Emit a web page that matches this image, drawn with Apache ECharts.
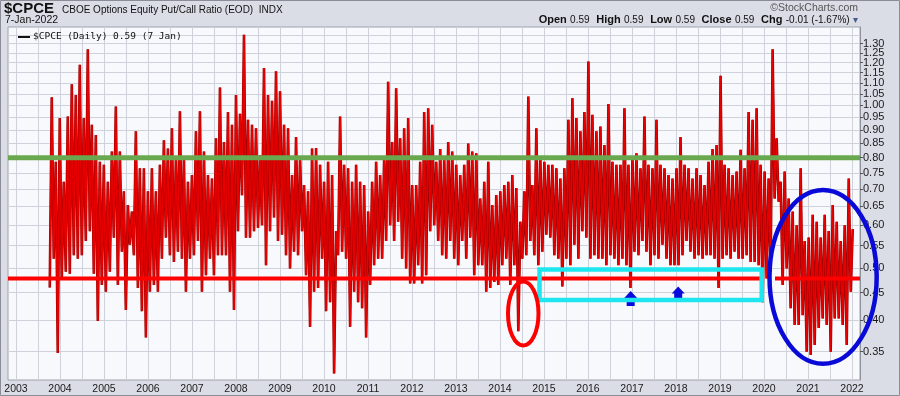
<!DOCTYPE html>
<html><head><meta charset="utf-8">
<script src="https://cdn.jsdelivr.net/npm/echarts@6/dist/echarts.min.js"></script>
<style>html,body{margin:0;padding:0;background:#dadde6;}#c{width:900px;height:396px;}</style>
</head><body><div id="c"></div>
<script>
const firstDate = [2003, 9, 8];   // 8 Oct 2003
const lastDate = [2022, 0, 7];    // 7 Jan 2022
const putCall2003_2005 = [0.46,1.035,0.52,0.786,0.348,0.947,0.478,0.722,0.492,0.953,0.488,1.094,0.528,1.045,0.52,1.188,0.528,0.947,0.561,1.27,0.585,0.92,0.488,0.881,0.399,0.786,0.465,0.776,0.452,0.722,0.492,0.821,0.569,0.995,0.465,0.821,0.536,0.693,0.418,0.654,0.552,0.636];
const putCall2005_2007 = [0.528,0.895,0.459,0.765,0.416,0.765,0.372,0.693,0.452,0.765,0.465,0.693,0.452,0.776,0.52,0.862,0.569,0.832,0.528,0.907,0.513,0.80,0.536,0.975,0.52,0.80,0.452,0.722,0.52,0.743,0.528,0.895,0.561,0.975,0.452,0.821,0.485,0.743,0.52,0.732,0.485,0.869,0.528,1.079,0.528];
const putCall2007_2009 = [0.855,0.528,0.972,0.452,0.92,0.418,1.045,0.585,0.965,0.682,1.351,0.569,0.94,0.569,0.92,0.585,0.907,0.593,0.809,0.60,1.172,0.506,1.045,0.585,1.02,0.62,1.156,0.561,1.062,0.576,0.92,0.528,0.907,0.499,0.743,0.536,0.874,0.528,0.80,0.585,0.712,0.485,0.693,0.389,0.832];
const putCall2009_2011 = [0.452,0.834,0.459,0.776,0.52,0.722,0.416,0.786,0.432,0.743,0.319,0.585,0.528,0.953,0.536,0.776,0.52,0.765,0.389,0.722,0.452,0.776,0.432,0.722,0.421,0.712,0.372,0.636,0.465,0.722,0.506,0.786,0.52,0.743,0.52,0.80,0.561,1.106,0.60,0.855,0.561,1.075,0.609,0.869,0.52];
const putCall2011_2013 = [0.907,0.499,0.947,0.468,0.712,0.468,0.712,0.506,0.786,0.468,0.972,0.485,0.987,0.585,0.92,0.60,0.786,0.561,0.830,0.528,0.80,0.52,0.855,0.561,0.821,0.52,0.776,0.506,0.743,0.561,0.776,0.52,0.85,0.569,0.821,0.485,0.815,0.506,0.672,0.506,0.722,0.452,0.786,0.459,0.654];
const putCall2013_2015 = [0.471,0.682,0.465,0.693,0.506,0.712,0.52,0.722,0.465,0.743,0.506,0.703,0.382,0.609,0.52,0.693,0.528,1.038,0.561,0.712,0.528,0.907,0.506,0.80,0.536,0.786,0.576,0.776,0.569,0.776,0.528,0.765,0.52,0.732,0.462,0.765,0.52,0.94,0.506,1.031,0.552,0.947,0.52,0.895,0.585];
const putCall2015_2017 = [0.972,0.569,1.205,0.52,0.96,0.528,0.895,0.52,0.914,0.52,0.844,0.506,1.006,0.528,0.786,0.52,0.776,0.506,0.776,0.52,0.987,0.506,0.776,0.459,0.80,0.536,0.815,0.528,0.765,0.561,0.953,0.536,0.776,0.506,0.765,0.528,0.94,0.52,0.776,0.552,0.765,0.52,0.743,0.506,0.732];
const putCall2017_2019 = [0.506,0.765,0.506,0.874,0.528,0.776,0.561,0.765,0.536,0.732,0.52,0.765,0.528,0.743,0.52,0.712,0.528,0.786,0.528,0.83,0.52,0.844,0.459,1.134,0.52,0.776,0.528,0.765,0.52,0.743,0.536,0.754,0.52,0.827,0.52,0.765,0.528,0.972,0.513,0.94,0.513,0.987,0.506,0.776,0.432];
const putCall2019_2022 = [0.754,0.478,0.732,0.492,1.27,0.672,0.869,0.663,0.722,0.465,0.754,0.499,0.672,0.421,0.636,0.392,0.60,0.392,0.765,0.409,0.561,0.35,0.569,0.345,0.627,0.36,0.609,0.387,0.569,0.403,0.627,0.392,0.585,0.35,0.654,0.403,0.609,0.403,0.561,0.392,0.60,0.36,0.732,0.452,0.59];

const yTickLabels = [0.35,0.40,0.45,0.50,0.55,0.60,0.65,0.70,0.75,0.80,0.85,0.90,0.95,1.00,1.05,1.10,1.15,1.20,1.25,1.30,1.35];
const yearLabels = [2003,2004,2005,2006,2007,2008,2009,2010,2011,2012,2013,2014,2015,2016,2017,2018,2019,2020,2021,2022];

// annotations (data coordinates: decimal year, ratio value)
const greenLevel = 0.80;
const redLevel = 0.478;
const redLineSegments = [[2002.818, 2019.95], [2020.25, 2022.182]];
const cyanBox = {x0: 2014.898, x1: 2019.948, vTop: 0.497, vBottom: 0.436};
const redEllipse = {x0: 2014.182, x1: 2014.875, vTop: 0.472, vBottom: 0.3594};
const blueEllipse = {x0: 2020.125, x1: 2022.561, vTop: 0.697, vBottom: 0.3323};
const blueArrows = [{x: 2016.97, vTip: 0.4534, vBase: 0.4253}, {x: 2018.05, vTip: 0.4618, vBase: 0.4401}];
const xRange = [2002.818, 2022.182];
const yRange = [0.3102, 1.3961];

// ---- build ----
const putCall = [].concat(putCall2003_2005, putCall2005_2007, putCall2007_2009, putCall2009_2011,
  putCall2011_2013, putCall2013_2015, putCall2015_2017, putCall2017_2019, putCall2019_2022);
const decYear = (y, m, d) => { const s = Date.UTC(y,0,1), e = Date.UTC(y+1,0,1); return y + (Date.UTC(y,m,d) - s) / (e - s); };
const x0 = decYear(...firstDate), x1 = decYear(...lastDate);
const N = putCall.length;
const seriesData = putCall.map((v,i) => [x0 + (x1 - x0) * i / (N - 1), Math.log(v)]);
const yTickLn = yTickLabels.map(v => Math.log(v));
const halfYears = [];
yearLabels.forEach(y => { halfYears.push(y); halfYears.push(y + 0.5); });
halfYears.push(2002.5);

const chart = echarts.init(document.getElementById('c'), null, {renderer:'canvas', width:900, height:396});
const FONT = 'Liberation Sans, Arial, sans-serif';
chart.setOption({
  animation: false,
  backgroundColor: '#dadde6',
  grid: {left: 8, right: 40, top: 27, bottom: 16, show: true, backgroundColor: '#f8f9fc', borderColor: '#9ea2ac', borderWidth: 1},
  xAxis: {
    type: 'value', min: xRange[0], max: xRange[1],
    axisLine: {show: false},
    axisTick: {show: false, customValues: halfYears},
    axisLabel: {customValues: yearLabels, formatter: v => String(Math.round(v)), color: '#1a1a1a', fontSize: 10.5, fontFamily: FONT, margin: 4},
    splitLine: {show: true, lineStyle: {color: '#cfd2da', width: 1}}
  },
  yAxis: {
    type: 'value', position: 'right', min: Math.log(yRange[0]), max: Math.log(yRange[1]),
    axisLine: {show: true, lineStyle: {color: '#8e929c'}},
    axisTick: {show: true, customValues: yTickLn, length: 3, lineStyle: {color: '#555'}},
    axisLabel: {customValues: yTickLn, formatter: v => Math.exp(v).toFixed(2), color: '#1a1a1a', fontSize: 11, fontFamily: FONT, margin: 3},
    splitLine: {show: true, lineStyle: {color: '#cfd2da', width: 1}}
  },
  series: [
    {type: 'line', data: seriesData, symbol: 'none', silent: true, z: 2,
      lineStyle: {color: '#9a0000', width: 2.6}},
    {type: 'line', data: seriesData, symbol: 'none', silent: true, z: 3,
      lineStyle: {color: '#e60000', width: 1.6}}
  ]
});

const P = (yr, v) => chart.convertToPixel({gridIndex: 0}, [yr, Math.log(v)]);
const g = [];
let a = P(xRange[0], greenLevel), b = P(xRange[1], greenLevel);
g.push({type:'line', z:100, shape:{x1:a[0], y1:a[1], x2:b[0], y2:b[1]}, style:{stroke:'#6aa84f', lineWidth:5}});
redLineSegments.forEach(s => {
  const p = P(s[0], redLevel), q = P(s[1], redLevel);
  g.push({type:'line', z:100, shape:{x1:p[0], y1:p[1], x2:q[0], y2:q[1]}, style:{stroke:'#ff0000', lineWidth:4}});
});
blueArrows.forEach(ar => {
  const tip = P(ar.x, ar.vTip), base = P(ar.x, ar.vBase);
  const tx = tip[0], ty = tip[1], by = base[1];
  g.push({type:'polygon', z:101, shape:{points:[[tx,ty],[tx+6.5,ty+7],[tx+4,ty+7],[tx+4,by],[tx-4,by],[tx-4,ty+7],[tx-6.5,ty+7]]}, style:{fill:'#0a0adc'}});
});
let c0 = P(cyanBox.x0, cyanBox.vTop), c1 = P(cyanBox.x1, cyanBox.vBottom);
g.push({type:'rect', z:102, shape:{x:c0[0], y:c0[1], width:c1[0]-c0[0], height:c1[1]-c0[1]}, style:{fill:'none', stroke:'#1de6ef', lineWidth:4.5}});
[[redEllipse, '#ff0000', 4], [blueEllipse, '#0a0ad8', 4.5]].forEach(([e, col, lw]) => {
  const p = P(e.x0, e.vTop), q = P(e.x1, e.vBottom);
  g.push({type:'ellipse', z:103, shape:{cx:(p[0]+q[0])/2, cy:(p[1]+q[1])/2, rx:(q[0]-p[0])/2, ry:(q[1]-p[1])/2}, style:{fill:'none', stroke:col, lineWidth:lw}});
});
g.push({type:'text', z:110, style:{x:4, y:9, text:'$CPCE', font:'bold 15px ' + FONT, fill:'#111', verticalAlign:'middle'}});
g.push({type:'text', z:110, style:{x:62, y:10, text:'CBOE Options Equity Put/Call Ratio (EOD)  INDX', font:'10px ' + FONT, fill:'#111', verticalAlign:'middle'}});
g.push({type:'text', z:110, style:{x:5, y:20, text:'7-Jan-2022', font:'10.5px ' + FONT, fill:'#111', verticalAlign:'middle'}});
g.push({type:'text', z:110, style:{x:858, y:8, text:'\u00a9StockCharts.com', font:'10.5px ' + FONT, fill:'#555', align:'right', verticalAlign:'middle'}});
g.push({type:'text', z:110, style:{x:858, y:20, align:'right', verticalAlign:'middle',
  text:'{b|Open} {n|0.59}  {b|High} {n|0.59}  {b|Low} {n|0.59}  {b|Close} {n|0.59}  {b|Chg} {n|-0.01 (-1.67%)} {t|\u25be}',
  rich:{b:{font:'bold 11px ' + FONT, fill:'#111'}, n:{font:'10px ' + FONT, fill:'#111'}, t:{font:'10px ' + FONT, fill:'#4a5a8a'}}}});
g.push({type:'line', z:110, shape:{x1:18, y1:37, x2:30, y2:37}, style:{stroke:'#111', lineWidth:2}});
g.push({type:'text', z:110, style:{x:33, y:37, text:'$CPCE (Daily) 0.59 (7 Jan)', font:'9.5px DejaVu Sans Mono, monospace', fill:'#111', verticalAlign:'middle'}});
g.push({type:'rect', z:120, shape:{x:0.5, y:0.5, width:899, height:395}, style:{fill:'none', stroke:'#8a8d96', lineWidth:1}});
chart.setOption({graphic: g});
</script></body></html>
